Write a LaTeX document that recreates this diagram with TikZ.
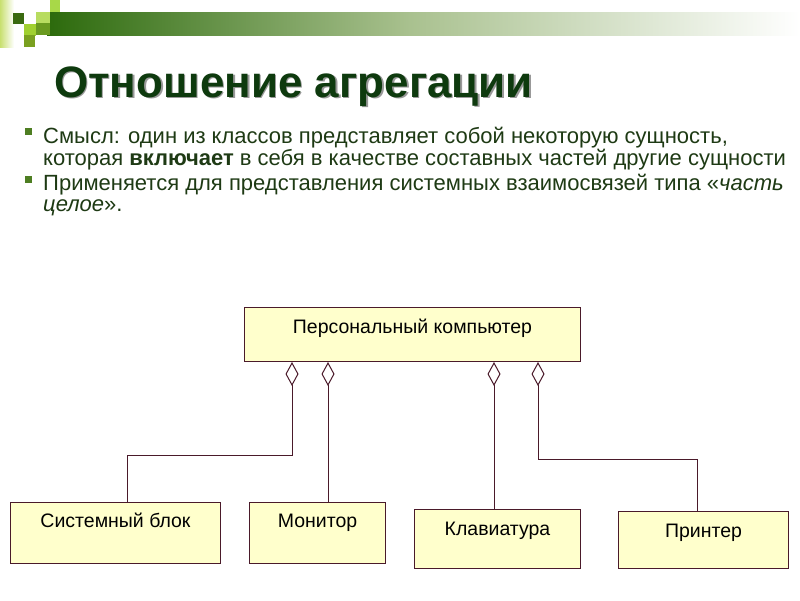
\documentclass[tikz,border=0pt]{standalone}
\usepackage{fontspec}
\setmainfont{Liberation Sans}
\usetikzlibrary{arrows.meta,calc}
\definecolor{linec}{HTML}{4A1A2A}
\definecolor{boxfill}{HTML}{FFFFCC}
\definecolor{txtc}{HTML}{1E3A14}
\definecolor{titc}{HTML}{0E3A0E}
\definecolor{bulc}{HTML}{4E7E22}
\definecolor{bar1}{HTML}{2C6A0C}
\definecolor{bar2}{HTML}{A9C18F}
\definecolor{sqA}{HTML}{3A6A10}
\definecolor{sqB}{HTML}{A0D030}
\definecolor{sqC}{HTML}{7AA020}
\definecolor{sqD}{HTML}{B8DC60}
\definecolor{sqE}{HTML}{A8D848}
\definecolor{sqF}{HTML}{6A9A20}
\definecolor{sqG}{HTML}{C8E070}
\begin{document}
\begin{tikzpicture}[x=1pt,y=-1pt,
  box/.style={draw=linec, fill=boxfill, line width=1pt, inner xsep=0pt, inner ysep=0pt,
    font=\fontsize{19.5}{21}\selectfont, anchor=north west, text=black},
  agg/.style={draw=linec, line width=1pt, {Diamond[open,length=24pt,width=13pt]}-},
  txt/.style={anchor=base west, inner sep=0pt, text=txtc, font=\fontsize{22}{24}\selectfont},
  bul/.style={fill=bulc, draw=none},
  ttl/.style={anchor=base west, inner sep=0pt, font=\fontsize{44}{46}\selectfont\bfseries}]
\useasboundingbox (0,0) rectangle (800,600);
\clip (0,0) rectangle (800,600);
\fill[white] (0,0) rectangle (800,600);
% header bar
\shade[left color=bar1, right color=bar2] (47,12) rectangle (410,35);
\shade[left color=bar2, right color=white] (410,12) rectangle (800,35);
% logo squares
\shade[left color=sqG, right color=white] (0,0) rectangle (14,47);
\fill[sqA] (13,13) rectangle (24,24);
\fill[sqB] (24,24) rectangle (36,36);
\fill[sqC] (24,35) rectangle (35,47);
\fill[sqD] (36,12) rectangle (50,23);
\fill[sqF] (36,23) rectangle (50,35);
\fill[sqE] (50,0) rectangle (60,12);
% title
\node[ttl, text=black!40] (tshadow) at (55.5,98.5) {Отношение агрегации};
\node[ttl, text=titc] (title) at (54,97) {Отношение агрегации};
% bullets
\fill[bul] (25,128) rectangle (32,135);
\fill[bul] (25,176) rectangle (32,183);
\node[txt] (l1) at (43,143) {Смысл: один из классов представляет собой некоторую сущность,};
\node[txt] (l2) at (43,165) {которая \textbf{включает} в себя в качестве составных частей другие сущности};
\node[txt] (l3) at (43,190) {Применяется для представления системных взаимосвязей типа «\textit{часть}};
\node[txt] (l4) at (43,211) {\textit{целое}».};
% class boxes
\node[box, minimum width=336pt, text height=26pt, text depth=28pt] (pc) at (244,307) {Персональный компьютер};
\node[box, minimum width=210pt, text height=25pt, text depth=36pt] (sb) at (10,502) {Системный блок};
\node[box, minimum width=136pt, text height=25pt, text depth=36pt] (mon) at (249,502) {Монитор};
\node[box, minimum width=166pt, text height=26pt, text depth=33pt] (kl) at (414,509) {Клавиатура};
\node[box, minimum width=170pt, text height=26pt, text depth=31pt] (prt) at (618,511) {Принтер};
% attachment points
\path (pc.south west) ++(48,0) coordinate (d1);
\path (pc.south west) ++(84,0) coordinate (d2);
\path (pc.south west) ++(250,0) coordinate (d3);
\path (pc.south west) ++(294,0) coordinate (d4);
\path (sb.north west) ++(117,0) coordinate (sbt);
\path (prt.north west) ++(79,0) coordinate (prtt);
\coordinate (bend1) at (0,455);
\coordinate (bend2) at (0,459);
% connectors
\draw[agg] (d1) -- (d1 |- bend1) -| (sbt);
\draw[agg] (d2) -- (d2 |- mon.north);
\draw[agg] (d3) -- (d3 |- kl.north);
\draw[agg] (d4) -- (d4 |- bend2) -| (prtt);
\end{tikzpicture}
\end{document}
